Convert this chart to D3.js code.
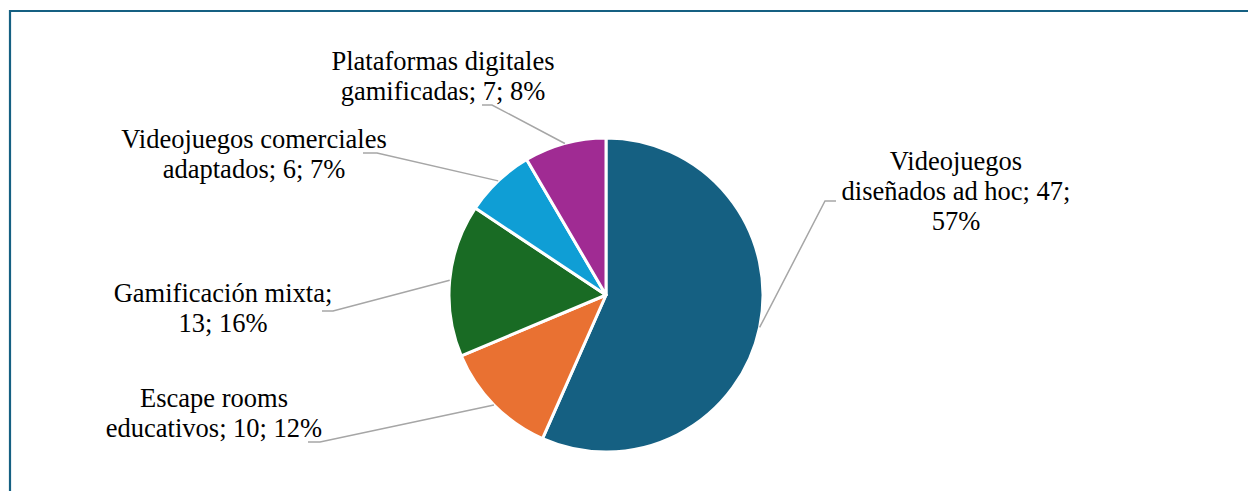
<html>
<head>
<meta charset="utf-8">
<title>Tipos de gamificación</title>
<style>
    body{ margin:0; background:#fff; }
    .leader{ fill:none; stroke:#a6a6a6; stroke-width:1.5; }
</style>
</head>
<body>
<script src="https://cdn.jsdelivr.net/npm/d3@7"></script>
<script>
var width = 1248, height = 491;

// data
var categories = ["Videojuegos diseñados ad hoc", "Escape rooms educativos", "Gamificación mixta",
                  "Videojuegos comerciales adaptados", "Plataformas digitales gamificadas"];
var values = [47, 10, 13, 6, 7];
var percents = [57, 12, 16, 7, 8];
var labelLines = [
    ["Videojuegos", "diseñados ad hoc; 47;", "57%"],
    ["Escape rooms", "educativos; 10; 12%"],
    ["Gamificación mixta;", "13; 16%"],
    ["Videojuegos comerciales", "adaptados; 6; 7%"],
    ["Plataformas digitales", "gamificadas; 7; 8%"]
];
var colors = ["#156082", "#e97132", "#196b24", "#0f9ed5", "#a02b93"];

// label layout: text centre x, first baseline y, elbow start/end x and elbow y
var labelPos = [
    {x: 956, y: 170, sx: 836, ex: 825, ly: 201},
    {x: 214, y: 407, sx: 308, ex: 320, ly: 442},
    {x: 223, y: 302, sx: 322, ex: 333, ly: 311},
    {x: 254, y: 148, sx: 363, ex: 377, ly: 153},
    {x: 443, y: 70,  sx: 482, ex: 492, ly: 105}
];

var cx = 606, cy = 295, r = 157, lineH = 30;

var svg = d3.select("body").append("svg")
    .attr("width", width)
    .attr("height", height);

// frame
svg.append("path")
    .attr("d", "M10," + height + " V11 H" + width)
    .attr("fill", "none")
    .attr("stroke", "#156082")
    .attr("stroke-width", 2.2);

var pie = d3.pie().sort(null).value(function(d){ return d; });
var arcs = pie(values);
var arc = d3.arc().innerRadius(0).outerRadius(r);
var edge = d3.arc().innerRadius(r).outerRadius(r);

var g = svg.append("g").attr("transform", "translate(" + cx + "," + cy + ")");

g.selectAll("path.slice")
    .data(arcs)
    .enter().append("path")
    .attr("class", "slice")
    .attr("d", arc)
    .attr("fill", function(d, i){ return colors[i]; })
    .attr("stroke", "#fff")
    .attr("stroke-width", 3)
    .attr("stroke-linejoin", "round");

// leader lines
arcs.forEach(function(d, i){
    var p = edge.centroid(d);
    var L = labelPos[i];
    svg.append("polyline")
        .attr("class", "leader")
        .attr("points", [[L.sx, L.ly], [L.ex, L.ly], [cx + p[0], cy + p[1]]].join(" "));
});

// labels
labelLines.forEach(function(lines, i){
    var L = labelPos[i];
    var t = svg.append("text")
        .attr("font-family", "Liberation Serif, Times New Roman, serif")
        .attr("font-size", 26.5)
        .attr("fill", "#000")
        .attr("text-anchor", "middle");
    lines.forEach(function(s, k){
        t.append("tspan").attr("x", L.x).attr("y", L.y + k * lineH).text(s);
    });
});
</script>
</body>
</html>
